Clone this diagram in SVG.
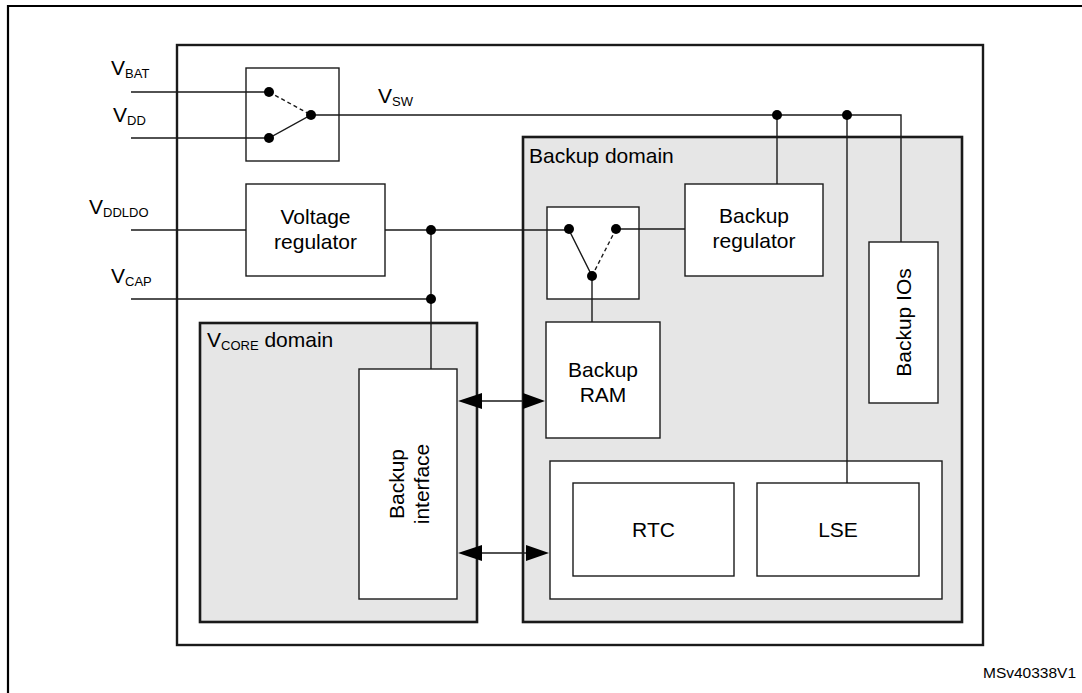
<svg xmlns="http://www.w3.org/2000/svg" width="1082" height="693" viewBox="0 0 1082 693">
<style>
text{font-family:"Liberation Sans",Arial,sans-serif;fill:#000}
.t{font-size:21px}
.c{text-anchor:middle}
.sub{font-size:13px}
.box{fill:#fff;stroke:#1a1a1a;stroke-width:1.4}
.dom{fill:#e6e6e6;stroke:#1a1a1a;stroke-width:2.6}
.ln{fill:none;stroke:#1a1a1a;stroke-width:1.4}
.ds{fill:none;stroke:#1a1a1a;stroke-width:1.4;stroke-dasharray:4,3}
.dot{fill:#000}
.ah{fill:#000}
</style>
<rect width="1082" height="693" fill="#fff"/>
<path d="M8 700V6H1090" fill="none" stroke="#000" stroke-width="2.2"/>
<g id="chip"><rect x="177" y="45" width="806" height="600" fill="#fff" stroke="#1a1a1a" stroke-width="2.4"/></g>
<g id="vcore-domain"><rect class="dom" x="200" y="323" width="277" height="299"/>
<text class="t" x="207" y="347">V<tspan class="sub" dy="3">CORE</tspan><tspan dy="-3"> domain</tspan></text></g>
<g id="backup-domain"><rect class="dom" x="523" y="137" width="439" height="485"/>
<text class="t" x="529" y="163">Backup domain</text></g>
<g id="power-switch"><rect class="box" x="246" y="68" width="93" height="93"/></g>
<g id="voltage-regulator"><rect class="box" x="246" y="184" width="139" height="92"/>
<text class="t c" x="315.5" y="224">Voltage</text><text class="t c" x="315.5" y="249">regulator</text></g>
<g id="backup-interface"><rect class="box" x="359" y="369" width="98" height="230"/>
<text class="t c" transform="translate(408 484) rotate(-90)" y="-4">Backup</text>
<text class="t c" transform="translate(408 484) rotate(-90)" y="21">interface</text></g>
<g id="ram-switch"><rect class="box" x="547" y="207" width="92" height="92"/></g>
<g id="backup-regulator"><rect class="box" x="685" y="184" width="138" height="92"/>
<text class="t c" x="754" y="223">Backup</text><text class="t c" x="754" y="248">regulator</text></g>
<g id="backup-ram"><rect class="box" x="546" y="322" width="114" height="116"/>
<text class="t c" x="603" y="377">Backup</text><text class="t c" x="603" y="402">RAM</text></g>
<g id="backup-ios"><rect class="box" x="869" y="242" width="69" height="161"/>
<text class="t c" transform="translate(903.5 322.5) rotate(-90)" y="7">Backup IOs</text></g>
<g id="rtc-lse-group"><rect class="box" x="550" y="461" width="392" height="138"/></g>
<g id="rtc"><rect class="box" x="573" y="483" width="161" height="93"/><text class="t c" x="653.5" y="537">RTC</text></g>
<g id="lse"><rect class="box" x="757" y="483" width="162" height="93"/><text class="t c" x="838" y="537">LSE</text></g>
<g id="connectors">
<path class="ln" d="M131 92H269M131 138H269L311 115H901V242"/>
<path class="ds" d="M269 92L311 115"/>
<path class="ln" d="M777 115V184M847 115V483"/>
<path class="ln" d="M131 230H246M385 230H569L592 276V322M431 230V369M131 299H431M616 229H685"/>
<path class="ds" d="M616 229L592 276"/>
<path class="ln" d="M480 401H525M480 553H528"/>
<polygon class="ah" points="458,401 482,393 482,409"/>
<polygon class="ah" points="545,401 523,393 523,409"/>
<polygon class="ah" points="458,553 482,545 482,561"/>
<polygon class="ah" points="549,553 526,545 526,561"/>
<circle class="dot" cx="269" cy="92" r="5"/>
<circle class="dot" cx="269" cy="138" r="5"/>
<circle class="dot" cx="311" cy="115" r="5"/>
<circle class="dot" cx="777" cy="115" r="5"/>
<circle class="dot" cx="847" cy="115" r="5"/>
<circle class="dot" cx="431" cy="230" r="5"/>
<circle class="dot" cx="431" cy="299" r="5"/>
<circle class="dot" cx="569" cy="229" r="5"/>
<circle class="dot" cx="616" cy="229" r="5"/>
<circle class="dot" cx="592" cy="276" r="5"/>
</g>
<g id="labels">
<text class="t" x="111" y="75">V<tspan class="sub" dy="3">BAT</tspan></text>
<text class="t" x="113" y="122">V<tspan class="sub" dy="3">DD</tspan></text>
<text class="t" x="89" y="214">V<tspan class="sub" dy="3">DDLDO</tspan></text>
<text class="t" x="111" y="283">V<tspan class="sub" dy="3">CAP</tspan></text>
<text class="t" x="378" y="103">V<tspan class="sub" dy="3">SW</tspan></text>
<text x="983" y="678" style="font-size:15.5px">MSv40338V1</text>
</g>
</svg>
